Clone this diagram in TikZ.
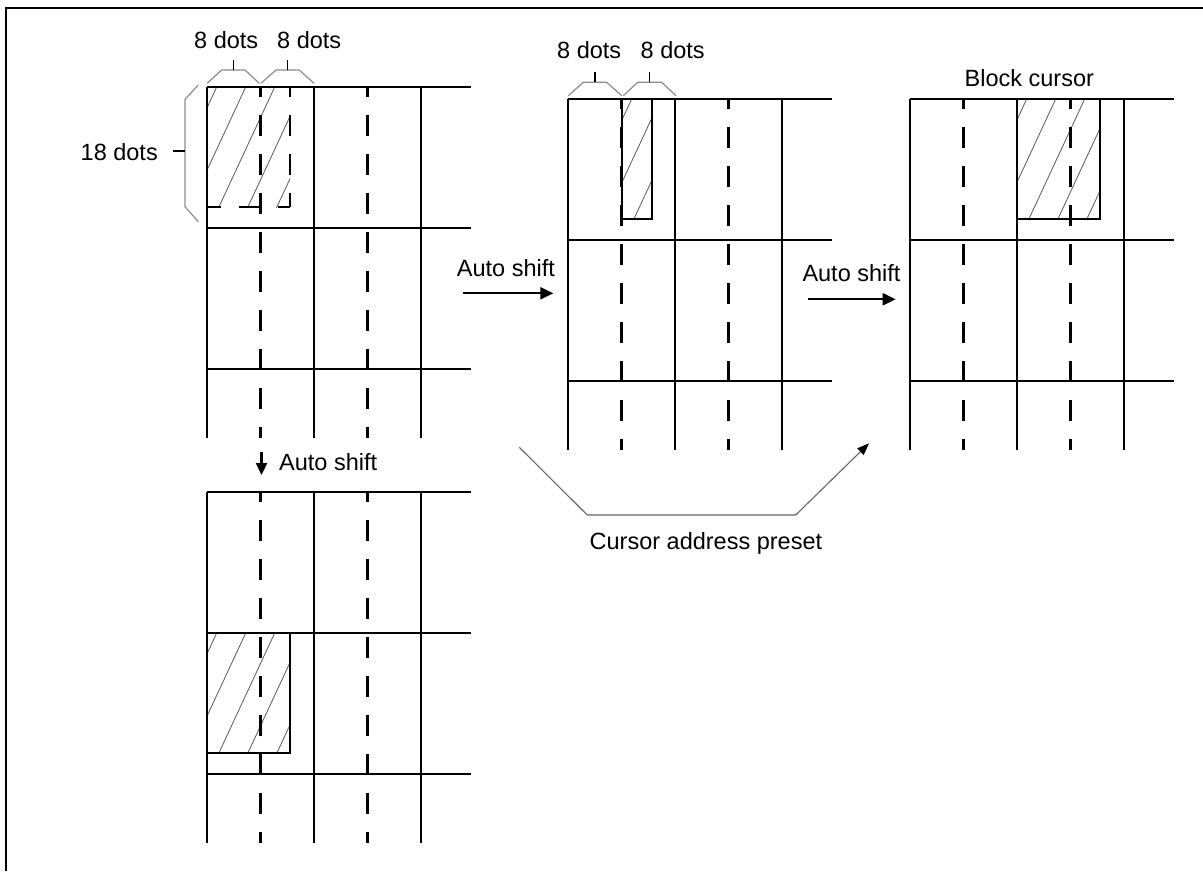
\documentclass[tikz,border=0pt]{standalone}
\usepackage{fontspec}
\setmainfont{Liberation Sans}
\usepackage{xcolor}
\definecolor{bracketgray}{rgb}{0.55,0.55,0.55}
\definecolor{hatchgray}{rgb}{0.35,0.35,0.35}
\definecolor{presetgray}{rgb}{0.4,0.4,0.4}
\usepackage{tikz}
\usetikzlibrary{arrows.meta}

\begin{document}
\begin{tikzpicture}[
  x=1pt, y=-1pt,
  lbl/.style={font=\fontsize{23.5}{28}\selectfont, inner sep=0pt, anchor=base west},
  gridline/.style={line width=2.5pt, black},
  dashline/.style={dash pattern=on 21pt off 18pt, dash phase=11pt},
  hatch/.style={line width=0.8pt, hatchgray},
  bracket/.style={line width=1.2pt, bracketgray},
  tick/.style={line width=1.2pt, black},
  frame/.style={line width=2pt, black},
  arrow/.style={line width=2.2pt, -{Triangle[length=13pt, width=12pt]}},
]
\useasboundingbox (0,0) rectangle (1203,871);

% Frame
\draw[frame] (1203,8) -- (6,8) -- (6,871);

% --- Hatched cursors (drawn first, grid on top) ---
\foreach \x/\y/\w in {207/87/83, 622/99/30, 1017/99/83, 207/633/83} {
  \begin{scope}
    \clip (\x,\y) rectangle ++(\w,120);
    \foreach \k in {0,...,5}
      \draw[hatch] (\x+9.7+29*\k,\y) -- ++(-60,129);
  \end{scope}
}

% --- Character grids ---
\foreach \gx/\gy in {207/87, 568/99, 910/99, 207/492} {
  \foreach \r in {0,1,2}
    \draw[gridline] (\gx,\gy+141*\r) -- ++(264,0);
  \foreach \c in {0,107,214}
    \draw[gridline] (\gx+\c,\gy) -- ++(0,351);
  \foreach \c in {53.5,160.5}
    \draw[gridline, dashline] (\gx+\c,\gy) -- ++(0,351);
}

% --- Cursor outlines ---
\draw[gridline, dashline] (290,87) -- (290,207);
\draw[gridline, dash pattern=on 21pt off 18pt, dash phase=9pt] (290,207) -- (207,207);
\draw[gridline] (622,99) -- (622,225);
\draw[gridline] (622,219) -- (652,219) -- (652,99);
\draw[gridline] (1017,219) -- (1100,219) -- (1100,99);
\draw[gridline] (207,753) -- (290,753) -- (290,633);

% --- Dot brackets ---
\draw[bracket] (207,83.3) -- (221.7,70) -- (245,70) -- (259.3,83.3);
\draw[bracket] (261,83.3) -- (276,70) -- (299.3,70) -- (314,83.3);
\draw[bracket] (198.3,85) -- (185,99.3) -- (185,206.7) -- (198.3,221.7);
\draw[bracket] (568.3,95.7) -- (583.3,82.3) -- (606.7,82.3) -- (621.7,95.7);
\draw[bracket] (623.3,95.7) -- (637.7,82.3) -- (661.7,82.3) -- (676,95.7);
\draw[tick] (233.3,70) -- (233.3,60);
\draw[tick] (287.7,70) -- (287.7,60);
\draw[tick] (185,151) -- (172.7,151);
\draw[tick] (595,82.3) -- (595,71.7);
\draw[tick] (649.3,82.3) -- (649.3,71.7);

% Labels
\node[lbl] (dotsa) at (194,48.3) {8 dots};
\node[lbl] (dotsb) at (277,48.3) {8 dots};
\node[lbl] (dotsh) at (80.5,160) {18 dots};
\node[lbl] (dotsc) at (557,58.3) {8 dots};
\node[lbl] (dotsd) at (640.5,58.3) {8 dots};
\node[lbl] (block) at (964.5,86.7) {Block cursor};
\node[lbl] (shiftright) at (456.7,276) {Auto shift};
\node[lbl] (shiftfar) at (802.3,281.7) {Auto shift};
\node[lbl] (shiftdown) at (279,470) {Auto shift};
\node[lbl] (preset) at (589.5,549) {Cursor address preset};

% --- Shift arrows ---
\coordinate (ra) at (462.7,293.3);
\coordinate (rb) at (553.3,293.3);
\coordinate (fa) at (808.3,299.3);
\coordinate (fb) at (895.7,299.3);
\coordinate (da) at (261.5,452);
\coordinate (db) at (261.5,475);
\draw[arrow] (ra) -- (rb);
\draw[arrow] (fa) -- (fb);
\draw[line width=2.2pt, -{Triangle[length=12pt, width=11pt]}] (da) -- (db);

% Preset path
\coordinate (pa) at (519.3,447.3);
\coordinate (pb) at (869,443.3);
\draw[line width=1.1pt, presetgray, -{Triangle[length=12pt, width=9pt, color=black]}]
  (pa) -- (587.3,515) -- (795.7,515) -- (pb);
\end{tikzpicture}
\end{document}
